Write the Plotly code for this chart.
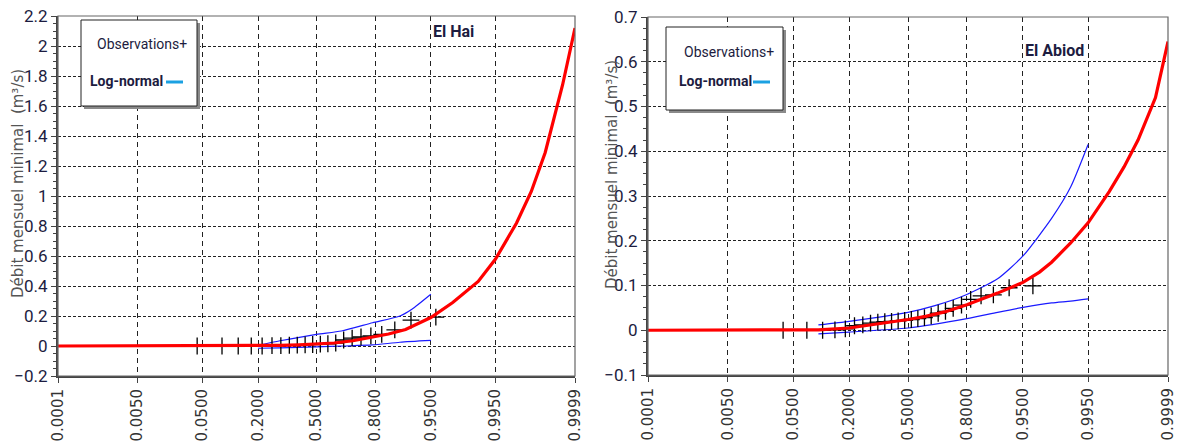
import plotly.graph_objects as go
from statistics import NormalDist

W, H = 1177, 442

# probability ticks of the Gauss (normal probability) axis
tick_probs = [0.0001, 0.005, 0.05, 0.2, 0.5, 0.8, 0.95, 0.995, 0.9999]
tick_labels = ["0.0001", "0.0050", "0.0500", "0.2000", "0.5000",
               "0.8000", "0.9500", "0.9950", "0.9999"]

# ---- El Hai -------------------------------------------------------------
hai_obs_p = [0.043, 0.087, 0.130, 0.174, 0.217, 0.261, 0.304, 0.348, 0.391,
             0.435, 0.478, 0.522, 0.565, 0.609, 0.652, 0.696, 0.739, 0.783,
             0.826, 0.870, 0.913, 0.957]
hai_obs_q = [0.0, 0.0, 0.0, 0.0, 0.0, 0.003, 0.003, 0.005, 0.006,
             0.008, 0.010, 0.012, 0.015, 0.020, 0.040, 0.053, 0.060, 0.067,
             0.078, 0.107, 0.173, 0.193]
hai_fit_p = [0.0001, 0.005, 0.05, 0.2, 0.3, 0.4, 0.5, 0.6, 0.7, 0.8, 0.85,
             0.9, 0.95, 0.975, 0.99, 0.995, 0.998, 0.999, 0.9995, 0.9998, 0.9999]
hai_fit_q = [0.0, 0.0, 0.0, 0.0, 0.004, 0.008, 0.012, 0.020, 0.035, 0.060, 0.080,
             0.110, 0.190, 0.290, 0.430, 0.580, 0.820, 1.030, 1.290, 1.740, 2.120]
hai_up_p = [0.2, 0.3, 0.5, 0.64, 0.79, 0.885, 0.915, 0.95]
hai_up_q = [0.005, 0.035, 0.078, 0.100, 0.155, 0.200, 0.245, 0.345]
hai_lo_p = [0.2, 0.3, 0.5, 0.65, 0.79, 0.885, 0.95]
hai_lo_q = [-0.015, -0.012, -0.006, 0.0, 0.007, 0.025, 0.037]

# ---- El Abiod -----------------------------------------------------------
abi_obs_p = [0.037, 0.074, 0.111, 0.148, 0.185, 0.222, 0.259, 0.296, 0.333,
             0.370, 0.407, 0.444, 0.481, 0.519, 0.556, 0.593, 0.630, 0.667,
             0.704, 0.741, 0.778, 0.815, 0.852, 0.889, 0.926, 0.963]
abi_obs_q = [0.0, 0.0, 0.0, 0.001, 0.003, 0.010, 0.012, 0.016, 0.018,
             0.019, 0.020, 0.021, 0.022, 0.024, 0.026, 0.028, 0.032, 0.038,
             0.042, 0.049, 0.056, 0.069, 0.077, 0.079, 0.095, 0.099]
abi_fit_p = [0.0001, 0.005, 0.05, 0.1, 0.2, 0.3, 0.4, 0.5, 0.6, 0.7, 0.8, 0.85,
             0.9, 0.95, 0.97, 0.98, 0.99, 0.995, 0.998, 0.999, 0.9995, 0.9998, 0.9999]
abi_fit_q = [0.0, 0.0, 0.0, 0.001, 0.005, 0.012, 0.018, 0.024, 0.031, 0.041, 0.057, 0.068,
             0.083, 0.107, 0.130, 0.152, 0.195, 0.240, 0.310, 0.365, 0.425, 0.520, 0.645]
abi_up_p = [0.1, 0.2, 0.35, 0.5, 0.65, 0.8, 0.9, 0.95, 0.98, 0.99, 0.995]
abi_up_q = [0.012, 0.020, 0.030, 0.040, 0.055, 0.080, 0.115, 0.166, 0.250, 0.320, 0.415]
abi_lo_p = [0.1, 0.2, 0.5, 0.8, 0.9, 0.95, 0.98, 0.99, 0.995]
abi_lo_q = [-0.008, -0.004, 0.005, 0.026, 0.040, 0.051, 0.061, 0.065, 0.070]

nd = NormalDist()


def gauss(ps):
    return [nd.inv_cdf(p) for p in ps]


def fx(x):
    return x / W


def fy(y):
    return 1 - y / H


NARROW = "Liberation Sans Narrow, Arial Narrow, Roboto, sans-serif"
WIDE = "DejaVu Sans, Verdana, sans-serif"
NAVY = "#1c1c40"

fig = go.Figure()

panels = [
    dict(xa="x", ya="y", obs=(hai_obs_p, hai_obs_q), fit=(hai_fit_p, hai_fit_q),
         up=(hai_up_p, hai_up_q), lo=(hai_lo_p, hai_lo_q)),
    dict(xa="x2", ya="y2", obs=(abi_obs_p, abi_obs_q), fit=(abi_fit_p, abi_fit_q),
         up=(abi_up_p, abi_up_q), lo=(abi_lo_p, abi_lo_q)),
]

for pn in panels:
    for key in ("up", "lo"):
        p, q = pn[key]
        fig.add_trace(go.Scatter(x=gauss(p), y=q, mode="lines", xaxis=pn["xa"], yaxis=pn["ya"],
                                 line=dict(color="#1a1aff", width=1.2, shape="spline", smoothing=0.6),
                                 showlegend=False, hoverinfo="skip"))
    p, q = pn["obs"]
    fig.add_trace(go.Scatter(x=gauss(p), y=q, mode="markers", xaxis=pn["xa"], yaxis=pn["ya"],
                             marker=dict(symbol="cross-thin", size=12,
                                         line=dict(color="black", width=1.3)),
                             showlegend=False))
    p, q = pn["fit"]
    fig.add_trace(go.Scatter(x=gauss(p), y=q, mode="lines", xaxis=pn["xa"], yaxis=pn["ya"],
                             line=dict(color="#ff0000", width=3.2),
                             showlegend=False))

xr = [nd.inv_cdf(0.0001), nd.inv_cdf(0.9999)]


def xaxis_cfg(x0, x1):
    return dict(domain=[fx(x0), fx(x1)], range=xr, tickmode="array",
                tickvals=gauss(tick_probs), ticktext=tick_labels, tickangle=-90,
                tickfont=dict(family=WIDE, size=15, color="#333"),
                showgrid=True, gridcolor="#222", gridwidth=1, griddash="5px,4px",
                ticks="outside", ticklen=5, tickcolor="#444",
                showline=True, linecolor="#444", linewidth=2, zeroline=False,
                automargin=False, fixedrange=True)


def yaxis_cfg(y0, y1, rng, dt, mdt, anchor):
    return dict(domain=[fy(y1), fy(y0)], range=rng, dtick=dt, tick0=0,
                tickfont=dict(family=NARROW, size=17, color=NAVY),
                showgrid=True, gridcolor="#222", gridwidth=1.2, griddash="3px,2px",
                ticks="outside", ticklen=5, tickcolor="#444",
                minor=dict(dtick=mdt, ticks="outside", ticklen=3, tickcolor="#444", showgrid=False),
                showline=True, linecolor="#444", linewidth=2, zeroline=False,
                anchor=anchor, automargin=False, fixedrange=True)


fig.update_layout(
    width=W, height=H, margin=dict(l=0, r=0, t=0, b=0),
    paper_bgcolor="white", plot_bgcolor="white", showlegend=False,
    xaxis=dict(**xaxis_cfg(58, 575), anchor="y"),
    yaxis=yaxis_cfg(16, 376, [-0.2, 2.2], 0.2, 0.05, "x"),
    xaxis2=dict(**xaxis_cfg(648, 1168), anchor="y2"),
    yaxis2=yaxis_cfg(17, 375, [-0.1, 0.7], 0.1, 0.025, "x2"),
)

shapes = []
annotations = []


def label(text, x, y, size, color, family=NARROW, angle=0):
    annotations.append(dict(text=text, xref="paper", yref="paper", x=fx(x), y=fy(y),
                            xanchor="center", yanchor="middle", textangle=angle,
                            showarrow=False, font=dict(family=family, size=size, color=color)))


# plot frames (top/right borders)
for (x0, y0, x1, y1) in [(58, 16, 575, 376), (648, 17, 1168, 375)]:
    shapes.append(dict(type="rect", xref="paper", yref="paper", x0=fx(x0), x1=fx(x1),
                       y0=fy(y1), y1=fy(y0), line=dict(color="#666", width=1.2),
                       fillcolor="rgba(0,0,0,0)", layer="above"))

# legend boxes with drop shadow
legends = [
    dict(box=(81, 20, 197, 106), obs=(142, 44), ln=(126, 81), seg=(166, 183)),
    dict(box=(666, 27, 783, 110), obs=(729, 52), ln=(715, 81), seg=(753, 770)),
]
for lg in legends:
    x0, y0, x1, y1 = lg["box"]
    shapes.append(dict(type="rect", xref="paper", yref="paper", x0=fx(x0 + 3), x1=fx(x1 + 3),
                       y0=fy(y1 + 3), y1=fy(y0 + 3), line=dict(width=0),
                       fillcolor="#8a8a8a", layer="above"))
    shapes.append(dict(type="rect", xref="paper", yref="paper", x0=fx(x0), x1=fx(x1),
                       y0=fy(y1), y1=fy(y0), line=dict(color="#222", width=1),
                       fillcolor="white", layer="above"))
    sx0, sx1 = lg["seg"]
    shapes.append(dict(type="line", xref="paper", yref="paper", x0=fx(sx0), x1=fx(sx1),
                       y0=fy(lg["ln"][1] + 1), y1=fy(lg["ln"][1] + 1),
                       line=dict(color="#1ba1e2", width=3), layer="above"))
    label("Observations+", lg["obs"][0], lg["obs"][1], 14, NAVY)
    label("<b>Log-normal</b>", lg["ln"][0], lg["ln"][1], 14, NAVY)

# station names
label("<b>El Hai</b>", 453, 32, 16, NAVY)
label("<b>El Abiod</b>", 1054, 50, 16, NAVY)

# y-axis titles
ytitle = "Débit mensuel minimal  (m³/s)"
for (x, y) in [(18, 184), (612, 175)]:
    label(ytitle, x, y, 15, "#555", family=WIDE, angle=-90)

fig.update_layout(shapes=shapes, annotations=annotations)

fig.write_html("out.html")
